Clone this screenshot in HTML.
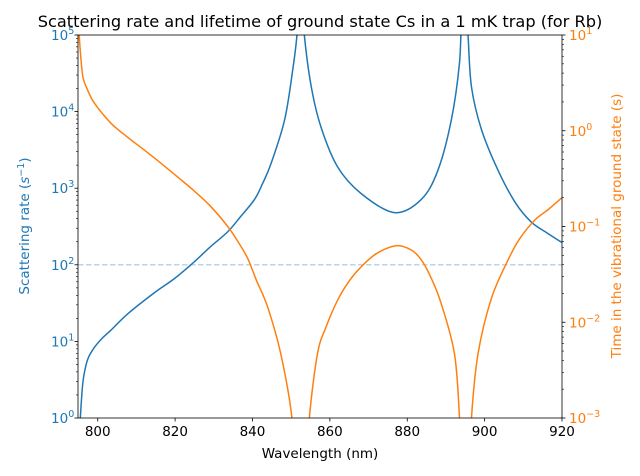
<!DOCTYPE html>
<html><head><meta charset="utf-8">
<style>
body{margin:0;background:#fff;}
svg{display:block;font-family:"DejaVu Sans","Liberation Sans",sans-serif;}
</style></head>
<body>
<svg id="chart" width="640" height="476" viewBox="0 0 640 476" xmlns="http://www.w3.org/2000/svg">
<defs><clipPath id="plotclip"><rect x="78" y="35" width="484" height="383"/></clipPath></defs>
<text x="320" y="27" text-anchor="middle" font-size="16.2" fill="#000">Scattering rate and lifetime of ground state Cs in a 1 mK trap (for Rb)</text>
<text x="320" y="458" text-anchor="middle" font-size="13.5" fill="#000">Wavelength (nm)</text>
<text transform="translate(29,226) rotate(-90)" text-anchor="middle" font-size="13.5" fill="#1f77b4">Scattering rate (<tspan font-style="italic">s</tspan><tspan font-size="9.5" dy="-5">−1</tspan><tspan dy="5">)</tspan></text>
<text transform="translate(621,226) rotate(-90)" text-anchor="middle" font-size="13.5" fill="#ff7f0e">Time in the vibrational ground state (s)</text>
<g id="grid"></g>
<g id="marks" clip-path="url(#plotclip)"></g>
<g id="axes"></g>
</svg>
<script>
// x-axis
const xTicks = [800, 820, 840, 860, 880, 900, 920];
// blue: scattering rate (1/s)
const rateWl = [795.5,796,796.5,797.5,799.1,801,803.4,807.8,814.6,819.8,825,829,833.6,837,840.5,842.5,844.8,848.3,850.4,851.5,852.0,852.9,853.4,855.2,857.7,862,868.1,876.7,883.6,887.9,891.4,893.5,894.1,895.1,895.7,896.6,899.2,903.5,908,912.1,916,920];
const rateVal = [1,2.4,3.8,6,8.3,10.8,14,23,43,66,110,170,270,430,710,1120,2100,7800,35000,100000,300000,300000,100000,21000,6300,1900,850,480,710,1700,7800,43000,200000,200000,100000,21000,5800,1700,640,360,263,195];
// orange: lifetime (s); null = gap (negative values)
const lifeWl = [795.2,795.6,796.2,797.5,799.1,803.4,807.5,812,816,820.6,825,829.2,833.6,836,838.7,841,843.9,847.3,850.2,850.6,852.5,854.3,854.7,856.8,859,862,865,868.1,872,877.1,881,883.6,886,888.7,892.2,893.5,893.8,895,896.3,896.6,898.3,901.8,906.1,909,913,916.5,920];
const lifeVal = [10,6,3.6,2.6,1.95,1.2,0.87,0.63,0.47,0.33,0.234,0.162,0.1,0.072,0.047,0.0275,0.0145,0.0047,0.001,0.0003,null,0.0003,0.001,0.0047,0.0089,0.017,0.027,0.038,0.052,0.063,0.057,0.045,0.03,0.016,0.0047,0.001,0.0003,null,0.0003,0.001,0.0047,0.018,0.045,0.074,0.117,0.151,0.2];
const leftTicks = [0,1,2,3,4,5];
const rightTicks = [-3,-2,-1,0,1];
const thresholdRate = [100];

const X0=78,X1=562,Y0=35,Y1=418, XMIN=794.9, XMAX=920;
const xs = v => X0 + (v-XMIN)/(XMAX-XMIN)*(X1-X0);
const yL = v => Y1 - (Math.log10(v)-0)/5*(Y1-Y0);
const yR = v => Y1 - (Math.log10(v)+3)/4*(Y1-Y0);
const NS="http://www.w3.org/2000/svg";
function mk(tag, attrs, parent){const e=document.createElementNS(NS,tag);for(const k in attrs)e.setAttribute(k,attrs[k]);parent.appendChild(e);return e;}
function smoothPath(pts){
  if(pts.length<2) return '';
  let d='M'+pts[0][0].toFixed(2)+','+pts[0][1].toFixed(2);
  for(let i=0;i<pts.length-1;i++){
    const p0=pts[Math.max(0,i-1)],p1=pts[i],p2=pts[i+1],p3=pts[Math.min(pts.length-1,i+2)];
    const c1=[p1[0]+(p2[0]-p0[0])/6,p1[1]+(p2[1]-p0[1])/6];
    const c2=[p2[0]-(p3[0]-p1[0])/6,p2[1]-(p3[1]-p1[1])/6];
    d+=' C'+c1[0].toFixed(2)+','+c1[1].toFixed(2)+' '+c2[0].toFixed(2)+','+c2[1].toFixed(2)+' '+p2[0].toFixed(2)+','+p2[1].toFixed(2);
  }
  return d;
}
function segments(wl,val,ys){
  const segs=[];let cur=[];
  for(let i=0;i<wl.length;i++){
    if(val[i]===null){if(cur.length)segs.push(cur);cur=[];continue;}
    cur.push([xs(wl[i]),ys(val[i])]);
  }
  if(cur.length)segs.push(cur);
  return segs;
}
const marks=document.getElementById('marks');
const axes=document.getElementById('axes');

const th=mk('line',{x1:X0,x2:X1,y1:yL(thresholdRate[0]),y2:yL(thresholdRate[0]),stroke:'#1f77b4','stroke-opacity':'0.3','stroke-width':1.5,'stroke-dasharray':'5.5,2.5'},marks);



segments(rateWl,rateVal,yL).forEach(s=>{
  const p=mk('path',{d:smoothPath(s),fill:'none',stroke:'#1f77b4','stroke-width':1.5},marks);
  
  
});
segments(lifeWl,lifeVal,yR).forEach(s=>{
  const p=mk('path',{d:smoothPath(s),fill:'none',stroke:'#ff7f0e','stroke-width':1.5},marks);
  
  
});

const fr=mk('rect',{x:X0,y:Y0,width:X1-X0,height:Y1-Y0,fill:'none',stroke:'#000','stroke-width':0.8},axes);



xTicks.forEach(t=>{
  const x=xs(t);
  mk('line',{x1:x,x2:x,y1:Y1,y2:Y1+3.5,stroke:'#000','stroke-width':0.8},axes);
  const l=mk('text',{x:x,y:Y1+18,'text-anchor':'middle','font-size':13.5,fill:'#000'},axes);
  l.textContent=t;
  
  
});
function logAxis(ticks,ys,xEdge,dir,color,name){
  ticks.forEach((e,i)=>{
    const y=ys(Math.pow(10,e));
    mk('line',{x1:xEdge,x2:xEdge+dir*3.5,y1:y,y2:y,stroke:'#000','stroke-width':0.8},axes);
    const t=mk('text',{x:xEdge+dir*(dir<0?27:7),y:y+5,'font-size':13.5,fill:color,'text-anchor':'start'},axes);
    
    
    const a=document.createElementNS(NS,'tspan');a.textContent='10';t.appendChild(a);
    const b=document.createElementNS(NS,'tspan');b.setAttribute('dy','-6');b.setAttribute('font-size','9.5');b.textContent=(e<0?'−':'')+Math.abs(e);t.appendChild(b);
    if(i<ticks.length-1){
      for(let m=2;m<=9;m++){
        const ym=ys(m*Math.pow(10,e));
        mk('line',{x1:xEdge,x2:xEdge+dir*2,y1:ym,y2:ym,stroke:'#000','stroke-width':0.6},axes);
      }
    }
  });
}
logAxis(leftTicks,yL,X0,-1,'#1f77b4','left-y-tick-label');
logAxis(rightTicks,yR,X1,1,'#ff7f0e','right-y-tick-label');
</script>
</body></html>
